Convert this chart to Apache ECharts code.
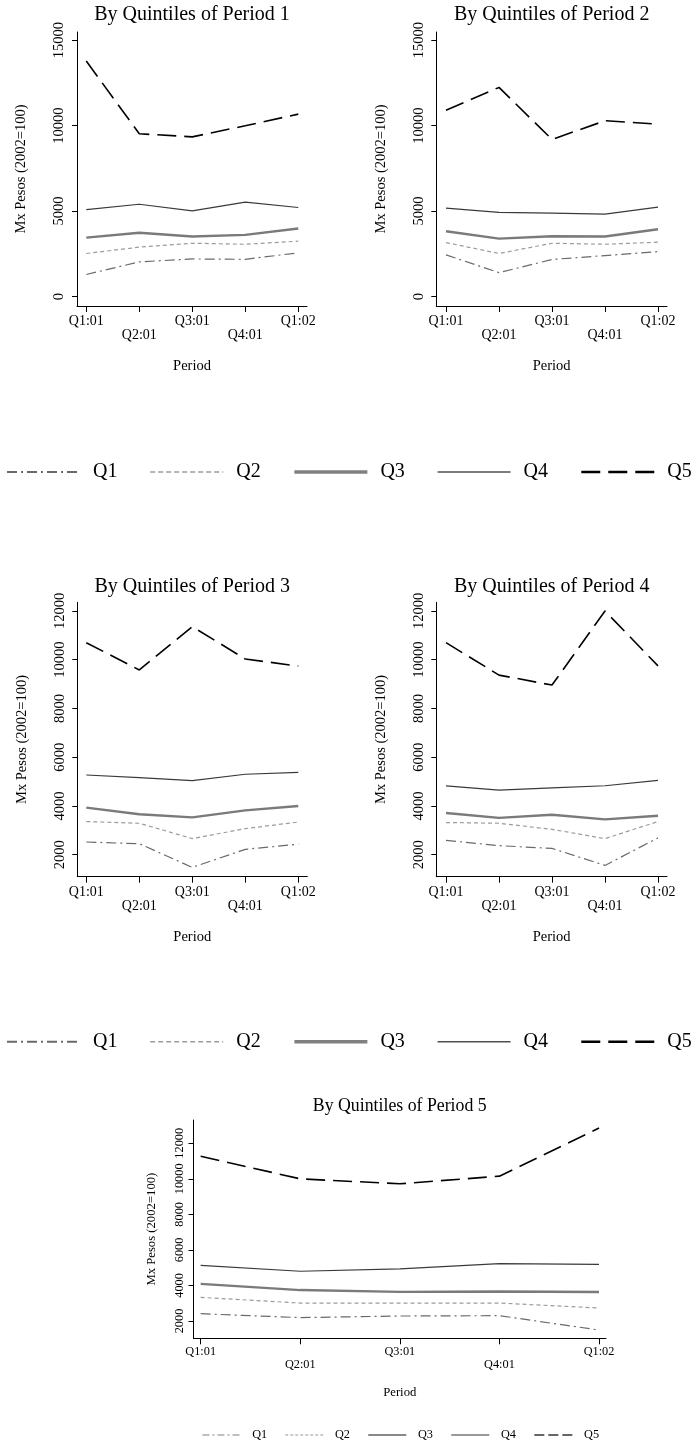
<!DOCTYPE html>
<html><head><meta charset="utf-8">
<script src="https://cdn.jsdelivr.net/npm/echarts@6/dist/echarts.min.js"></script>
<style>html,body{margin:0;padding:0;background:#fff}#c{width:694px;height:1446px}</style>
</head><body><div id="c"></div>
<script>
// ---------- DATA ----------
const categories = ['Q1:01', 'Q2:01', 'Q3:01', 'Q4:01', 'Q1:02'];
const seriesNames = ['Q1', 'Q2', 'Q3', 'Q4', 'Q5'];
const panelTitles = ['By Quintiles of Period 1', 'By Quintiles of Period 2', 'By Quintiles of Period 3', 'By Quintiles of Period 4', 'By Quintiles of Period 5'];
const yTicksTop = [0, 5000, 10000, 15000];
const yTicksBottom = [2000, 4000, 6000, 8000, 10000, 12000];
const xTickValues = [0, 1, 2, 3, 4];
const yAxisTitle = 'Mx Pesos (2002=100)';
const xAxisTitle = 'Period';

// Period 1
const p1Q1 = [1290, 2030, 2200, 2180, 2560];
const p1Q2 = [2520, 2890, 3120, 3060, 3240];
const p1Q3 = [3450, 3730, 3510, 3610, 3980];
const p1Q4 = [5090, 5400, 5010, 5520, 5210];
const p1Q5 = [13770, 9520, 9340, 9990, 10670];
// Period 2
const p2Q1 = [2440, 1400, 2170, 2400, 2630];
const p2Q2 = [3160, 2520, 3120, 3060, 3180];
const p2Q3 = [3820, 3390, 3530, 3510, 3940];
const p2Q4 = [5170, 4920, 4880, 4820, 5230];
const p2Q5 = [10900, 12230, 9190, 10280, 10080];
// Period 3
const p3Q1 = [2520, 2450, 1480, 2220, 2430];
const p3Q2 = [3360, 3290, 2660, 3070, 3340];
const p3Q3 = [3930, 3660, 3530, 3820, 4000];
const p3Q4 = [5270, 5160, 5040, 5300, 5380];
const p3Q5 = [10700, 9580, 11360, 10030, 9740];
// Period 4
const p4Q1 = [2590, 2370, 2260, 1560, 2690];
const p4Q2 = [3320, 3290, 3040, 2660, 3360];
const p4Q3 = [3710, 3510, 3640, 3450, 3600];
const p4Q4 = [4820, 4650, 4740, 4830, 5050];
const p4Q5 = [10700, 9370, 8960, 12000, 9750];
// Period 5
const p5Q1 = [2410, 2190, 2280, 2300, 1490];
const p5Q2 = [3330, 3010, 3010, 3010, 2730];
const p5Q3 = [4090, 3740, 3640, 3660, 3630];
const p5Q4 = [5130, 4800, 4930, 5230, 5190];
const p5Q5 = [11270, 10000, 9720, 10150, 12860];

const panelData = [
  [p1Q1, p1Q2, p1Q3, p1Q4, p1Q5],
  [p2Q1, p2Q2, p2Q3, p2Q4, p2Q5],
  [p3Q1, p3Q2, p3Q3, p3Q4, p3Q5],
  [p4Q1, p4Q2, p4Q3, p4Q4, p4Q5],
  [p5Q1, p5Q2, p5Q3, p5Q4, p5Q5]
];

// ---------- LAYOUT / STYLE ----------
const FONT = "'Liberation Serif', 'Times New Roman', serif";
const panels = [
  {left: 77,    top: 32,    width: 230,   height: 274,   xMin: -0.175, xMax: 4.165, yMin: -550, yMax: 15470, yTicks: yTicksTop,
   titleY: 15, titleSize: 20, tickSize: 14, yTickSize: 14.5, nameSize: 14.5, lh: 14.5, xMargin: 8, yMargin: 10, xNameGap: 53, yNameGap: 48},
  {left: 436.3, top: 32,    width: 230.7, height: 274,   xMin: -0.183, xMax: 4.170, yMin: -550, yMax: 15470, yTicks: yTicksTop,
   titleY: 15, titleSize: 20, tickSize: 14, yTickSize: 14.5, nameSize: 14.5, lh: 14.5, xMargin: 8, yMargin: 10, xNameGap: 53, yNameGap: 48},
  {left: 77.3,  top: 602.3, width: 230,   height: 274.4, xMin: -0.17,  xMax: 4.17,  yMin: 1097, yMax: 12357, yTicks: yTicksBottom,
   titleY: 586.7, titleSize: 20, tickSize: 14, yTickSize: 14.5, nameSize: 14.5, lh: 14.5, xMargin: 8, yMargin: 10, xNameGap: 53, yNameGap: 48},
  {left: 436.3, top: 602.3, width: 230.7, height: 274.4, xMin: -0.183, xMax: 4.170, yMin: 1097, yMax: 12357, yTicks: yTicksBottom,
   titleY: 586.7, titleSize: 20, tickSize: 14, yTickSize: 14.5, nameSize: 14.5, lh: 14.5, xMargin: 8, yMargin: 10, xNameGap: 53, yNameGap: 48},
  {left: 193.5, top: 1120,  width: 412.5, height: 218.3, xMin: -0.072, xMax: 4.070, yMin: 1026, yMax: 13311, yTicks: yTicksBottom,
   titleY: 1106, titleSize: 17.8, tickSize: 12.3, yTickSize: 12.3, nameSize: 12.7, lh: 12.7, xMargin: 7.6, yMargin: 8, xNameGap: 47.5, yNameGap: 35}
];

const lineStyles = [
  {color: '#6a6a6a', width: 1.2, type: [10, 4, 2, 4]},
  {color: '#9c9c9c', width: 1.2, type: [4, 3]},
  {color: '#7a7a7a', width: 2.4, type: 'solid'},
  {color: '#3a3a3a', width: 1.2, type: 'solid'},
  {color: '#000000', width: 1.6, type: [19, 8]}
];
const legendBigStyles = [
  {color: '#6a6a6a', width: 2, type: [10, 4, 2, 4]},
  {color: '#9c9c9c', width: 1.5, type: [5, 3]},
  {color: '#808080', width: 3.5, type: 'solid'},
  {color: '#505050', width: 1.5, type: 'solid'},
  {color: '#000000', width: 2.5, type: [19, 8]}
];
const legendSmallStyles = [
  {color: '#aaaaaa', width: 1.5, type: [7, 3, 2, 3]},
  {color: '#bbbbbb', width: 1.5, type: [3, 2]},
  {color: '#888888', width: 2, type: 'solid'},
  {color: '#999999', width: 2, type: 'solid'},
  {color: '#666666', width: 2, type: [10, 4]}
];

const grids = [], xAxes = [], yAxes = [], titles = [], series = [];
panels.forEach((p, i) => {
  grids.push({left: p.left, top: p.top, width: p.width, height: p.height, containLabel: false});
  titles.push({
    text: panelTitles[i], left: p.left + p.width / 2, top: p.titleY - p.titleSize / 2,
    textAlign: 'center', padding: 0,
    textStyle: {fontFamily: FONT, fontSize: p.titleSize, fontWeight: 'normal', color: '#000', lineHeight: p.titleSize}
  });
  xAxes.push({
    type: 'value', gridIndex: i, min: p.xMin, max: p.xMax,
    axisLine: {show: true, onZero: false, lineStyle: {color: '#000', width: 1}},
    axisTick: {show: true, length: 6, customValues: xTickValues, lineStyle: {color: '#000', width: 1}},
    axisLabel: {
      customValues: xTickValues, color: '#000', fontFamily: FONT, fontSize: p.tickSize, lineHeight: p.lh, margin: p.xMargin,
      formatter: v => { const k = Math.round(v); return k % 2 ? '\n' + categories[k] : categories[k]; }
    },
    splitLine: {show: false},
    name: xAxisTitle, nameLocation: 'middle', nameGap: p.xNameGap,
    nameTextStyle: {fontFamily: FONT, fontSize: p.nameSize, color: '#000'}
  });
  yAxes.push({
    type: 'value', gridIndex: i, min: p.yMin, max: p.yMax,
    axisLine: {show: true, onZero: false, lineStyle: {color: '#000', width: 1}},
    axisTick: {show: true, length: 5, customValues: p.yTicks, lineStyle: {color: '#000', width: 1}},
    axisLabel: {customValues: p.yTicks, rotate: 90, color: '#000', fontFamily: FONT, fontSize: p.yTickSize, margin: p.yMargin,
      formatter: v => String(Math.round(v))},
    splitLine: {show: false},
    name: yAxisTitle, nameLocation: 'middle', nameGap: p.yNameGap, nameRotate: 90,
    nameTextStyle: {fontFamily: FONT, fontSize: p.nameSize, color: '#000'}
  });
  panelData[i].forEach((arr, q) => {
    const ls = lineStyles[q];
    series.push({
      type: 'line', name: seriesNames[q], xAxisIndex: i, yAxisIndex: i,
      data: arr.map((v, k) => [k, v]), symbol: 'none', silent: true,
      lineStyle: {color: ls.color, width: ls.width, type: ls.type},
      itemStyle: {color: ls.color}, z: 2 + q
    });
  });
});

function makeLegend(top, left, styles, itemWidth, itemHeight, fontSize, textPad, gap) {
  return {
    top: top, left: left, width: 760, orient: 'horizontal', padding: 0, itemGap: gap,
    itemWidth: itemWidth, itemHeight: itemHeight, selectedMode: false,
    textStyle: {fontFamily: FONT, fontSize: fontSize, color: '#000', padding: [0, 0, 0, textPad], lineHeight: itemHeight},
    data: seriesNames.map((n, q) => ({
      name: n,
      itemStyle: {opacity: 0, color: 'rgba(0,0,0,0)', borderWidth: 0},
      lineStyle: {color: styles[q].color, width: styles[q].width, type: styles[q].type, opacity: 1}
    }))
  };
}

const legends = [
  makeLegend(462, 6, legendBigStyles, 73, 20, 20, 8, 32),
  makeLegend(1031.7, 6, legendBigStyles, 73, 20, 20, 8, 32),
  makeLegend(1429, 201.7, legendSmallStyles, 38, 12, 12.3, 6.7, 17.3)
];

const chart = echarts.init(document.getElementById('c'), null, {renderer: 'canvas', width: 694, height: 1446});
chart.setOption({
  backgroundColor: '#fff',
  animation: false,
  title: titles,
  legend: legends,
  grid: grids,
  xAxis: xAxes,
  yAxis: yAxes,
  series: series
});
</script>
</body></html>
